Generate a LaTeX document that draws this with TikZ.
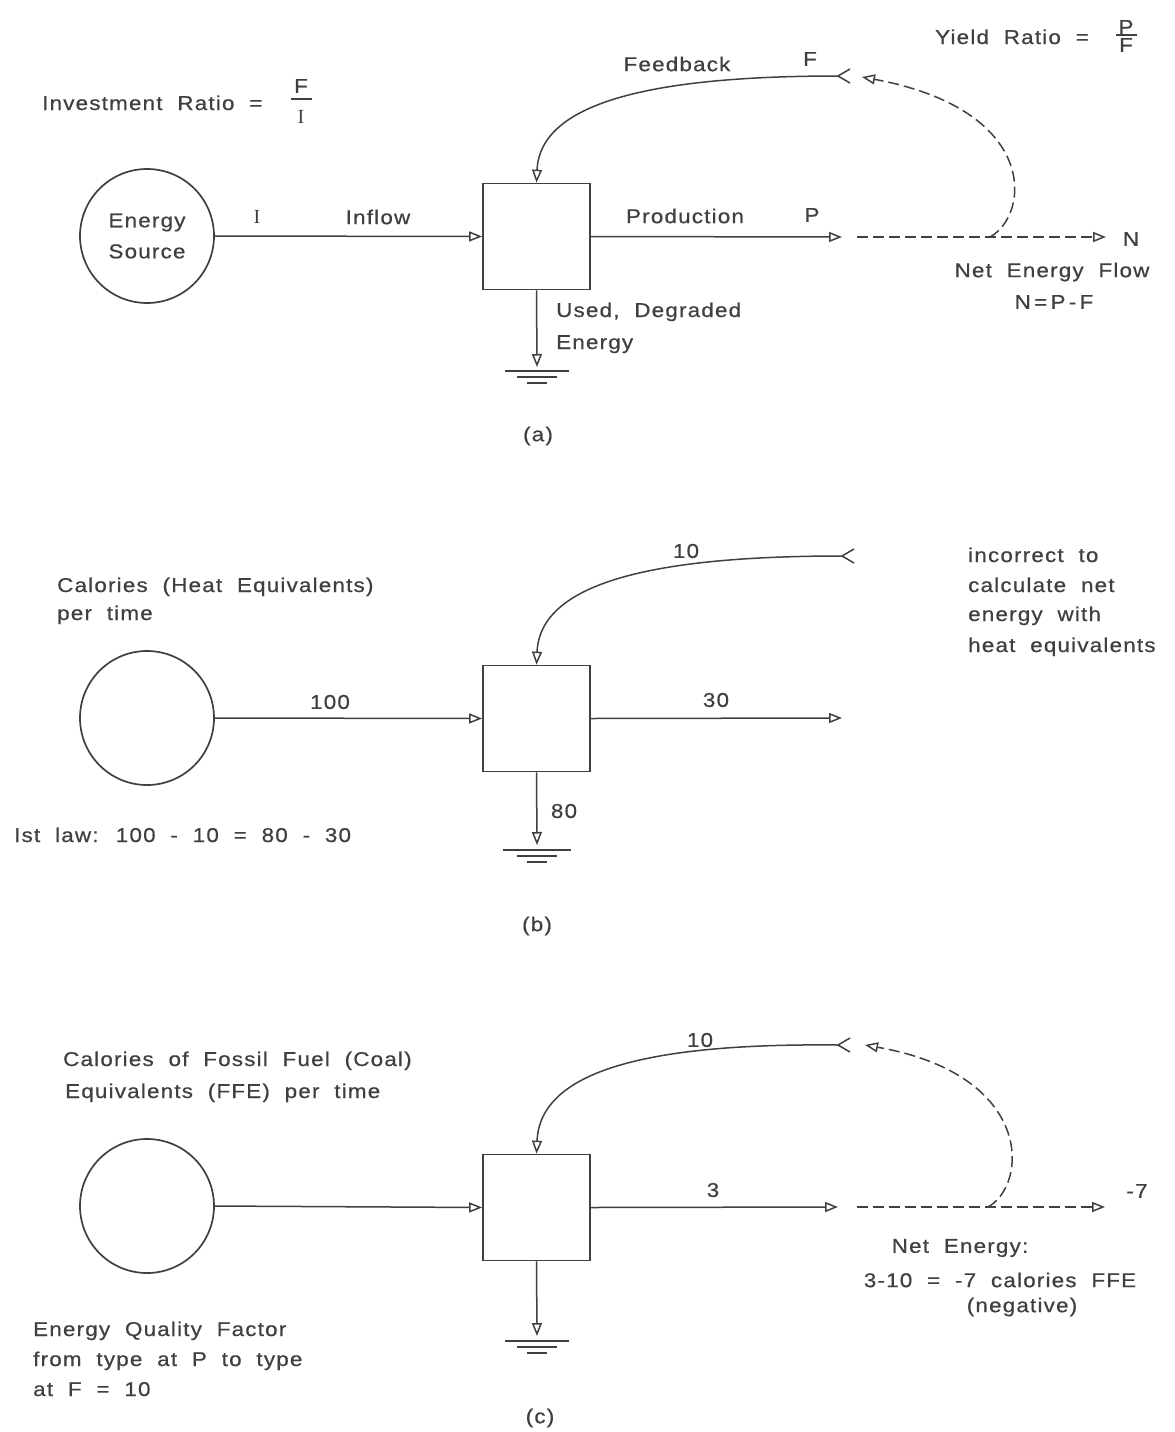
\documentclass[tikz,border=0pt]{standalone}
\usepackage{fontspec}
\setmainfont{Liberation Sans}[FakeStretch=1.12, LetterSpace=6, WordSpace=2.0, FakeBold=0.6]
\newfontfamily\serifI{Liberation Serif}
\usetikzlibrary{arrows.meta}
\definecolor{ink}{HTML}{404040}
\begin{document}
\begin{tikzpicture}[x=1pt,y=-1pt,
  every node/.style={text=ink, font=\fontsize{20}{31}\selectfont, inner sep=0pt},
  flow/.style={draw=ink, line width=1.5pt, -{Triangle[open,length=13pt,width=10pt]}},
  dflow/.style={flow, dash pattern=on 11pt off 5pt},
  plain/.style={draw=ink, line width=1.5pt},
  gnd/.style={draw=ink, line width=1.2pt},
  boxnode/.style={draw=ink, line width=1.7pt, minimum width=107pt, minimum height=106pt},
  srcnode/.style={circle, draw=ink, line width=1.7pt, minimum size=134pt, align=center},
  bw/.style={anchor=base west}]
\useasboundingbox (0,0) rectangle (1175,1432);
\fill[white] (0,0) rectangle (1175,1432);

% ---------------- (a) ----------------
\node[srcnode] (srcA) at (147,236) {Energy\\Source};
\node[boxnode] (boxA) at (536.5,236.5) {};
\coordinate (pA) at (842,237);
\coordinate (nA0) at (857,237);
\coordinate (nA) at (1106,237);
\coordinate (jA) at (990,237);
\coordinate (fkA) at (838,76);
\coordinate (fdA) at (862,77);
\coordinate (gA) at (537,367);
\draw[flow] (srcA.east) -- (boxA.west);
\draw[flow] (boxA.east) -- (pA);
\draw[dflow] (nA0) -- (nA);
\draw[dflow] (jA) .. controls (1030,215) and (1040,110) .. (fdA);
\draw[flow] (fkA) .. controls (650,76) and (540,103) .. (boxA.north);
\draw[plain] (fkA) -- ++(12,-7) (fkA) -- ++(12,7);
\draw[flow] (boxA.south) -- (gA);
\draw[gnd] (gA) ++(-32,4) -- ++(64,0) (gA) ++(-20,10) -- ++(40,0) (gA) ++(-10,16) -- ++(20,0);

\node[bw] (invA) at (42,110) {Investment Ratio =};
\node (fiF) at (301,86) {F};
\draw[gnd] (291,99) -- (312,99);
\node (fiI) at (301,117) {\serifI I};
\node (lI) at (257,217) {\serifI I};
\node (lInflow) at (378,217) {Inflow};
\node (lProd) at (685,216) {Production};
\node (lP) at (812,215) {P};
\node (lFeed) at (677,64) {Feedback};
\node (lF) at (810,59) {F};
\node[bw] (yld) at (935,44) {Yield Ratio =};
\node (frP) at (1126,27) {P};
\draw[gnd] (1116,35) -- (1137,35);
\node (frF) at (1126,45) {F};
\node (lN) at (1131,239) {N};
\node (lNet) at (1052,272) {Net Energy Flow};
\node (lNeq) at (1054,302) {N\,=\,P\,-\,F};
\node[bw] (lUsed) at (556,317) {Used, Degraded};
\node[bw] (lEn) at (556,349) {Energy};
\node (capA) at (538,436) {(a)};

% ---------------- (b) ----------------
\node[srcnode] (srcB) at (147,718) {};
\node[boxnode] (boxB) at (536.5,718.5) {};
\coordinate (pB) at (842,718);
\coordinate (fkB) at (842,556);
\coordinate (gB) at (537,845);
\draw[flow] (srcB.east) -- (boxB.west);
\draw[flow] (boxB.east) -- (pB);
\draw[flow] (fkB) .. controls (652,556) and (540,583) .. (boxB.north);
\draw[plain] (fkB) -- ++(12,-7) (fkB) -- ++(12,7);
\draw[flow] (boxB.south) -- (gB);
\draw[gnd] (gB) ++(-34,5) -- ++(68,0) (gB) ++(-20,11) -- ++(40,0) (gB) ++(-10,17) -- ++(20,0);

\node (l10b) at (686,551) {10};
\node (l100) at (330,702) {100};
\node (l30) at (716,700) {30};
\node (l80) at (564,811) {80};
\node[bw] (calB1) at (57,592) {Calories (Heat Equivalents)};
\node[bw] (calB2) at (57,620) {per time};
\node[bw] (law) at (14,842) {Ist law: 100 - 10 = 80 - 30};
\node[bw] (inc1) at (968,562) {incorrect to};
\node[bw] (inc2) at (968,592) {calculate net};
\node[bw] (inc3) at (968,621) {energy with};
\node[bw] (inc4) at (968,652) {heat equivalents};
\node (capB) at (537,926) {(b)};

% ---------------- (c) ----------------
\node[srcnode] (srcC) at (147,1206) {};
\node[boxnode] (boxC) at (536.5,1207.5) {};
\coordinate (pC) at (838,1207);
\coordinate (nC0) at (857,1207);
\coordinate (nC) at (1105,1207);
\coordinate (jC) at (988,1207);
\coordinate (fkC) at (838,1045);
\coordinate (fdC) at (865,1045);
\coordinate (gC) at (537,1336);
\draw[flow] (srcC.east) -- (boxC.west);
\draw[flow] (boxC.east) -- (pC);
\draw[dflow] (nC0) -- (nC);
\draw[dflow] (jC) .. controls (1028,1185) and (1035,1075) .. (fdC);
\draw[flow] (fkC) .. controls (650,1043) and (540,1070) .. (boxC.north);
\draw[plain] (fkC) -- ++(12,-7) (fkC) -- ++(12,7);
\draw[flow] (boxC.south) -- (gC);
\draw[gnd] (gC) ++(-32,5) -- ++(64,0) (gC) ++(-20,11) -- ++(40,0) (gC) ++(-10,17) -- ++(20,0);

\node (l10c) at (700,1040) {10};
\node (l3) at (713,1190) {3};
\node (lm7) at (1137,1191) {-7};
\node[bw] (calC1) at (63,1066) {Calories of Fossil Fuel (Coal)};
\node[bw] (calC2) at (65,1098) {Equivalents (FFE) per time};
\node (ne1) at (960,1248) {Net Energy:};
\node (ne2) at (1000,1280) {3-10 = -7 calories FFE};
\node (ne3) at (1022,1307) {(negative)};
\node[bw] (eq1) at (33,1336) {Energy Quality Factor};
\node[bw] (eq2) at (33,1366) {from type at P to type};
\node[bw] (eq3) at (33,1396) {at F = 10};
\node (capC) at (540,1418) {(c)};
\end{tikzpicture}
\end{document}
